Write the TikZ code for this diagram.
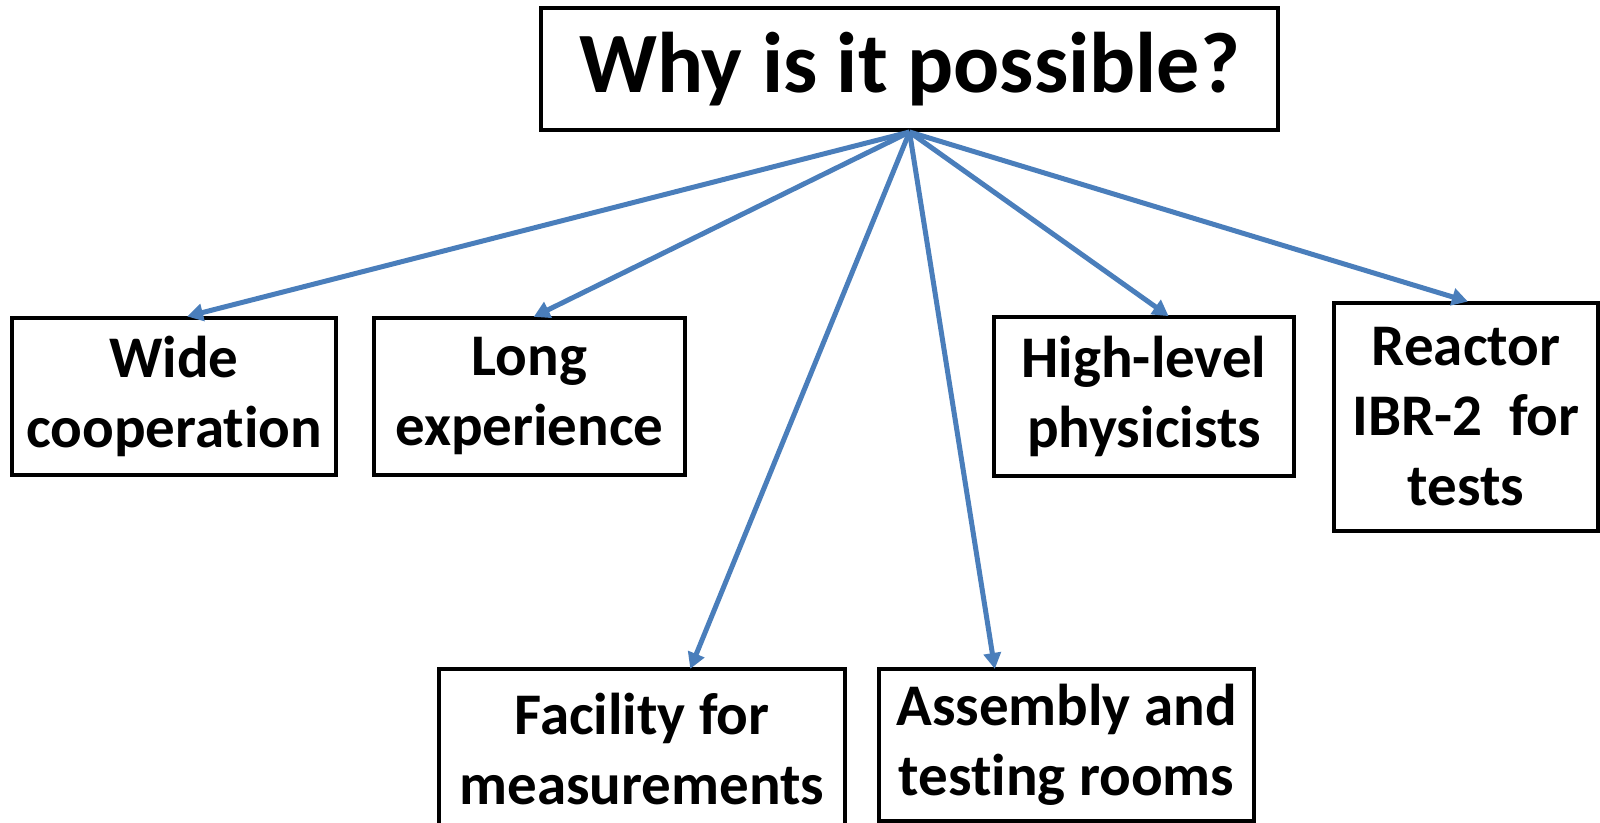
\documentclass[tikz,border=0pt]{standalone}
\usepackage{fontspec}
\setmainfont{Carlito}[Ligatures=NoCommon]
\usetikzlibrary{arrows.meta}
\definecolor{linkblue}{RGB}{74,126,187}
\begin{document}
\begin{tikzpicture}[x=0.5pt,y=-0.5pt,
  box/.style={draw=black,line width=2pt,align=center,inner sep=0pt,
    font=\fontsize{29.5}{35}\selectfont\bfseries},
  link/.style={draw=linkblue,line width=2.5pt,
    -{Triangle[length=8pt,width=8.5pt]},shorten >=-1pt}]
\useasboundingbox (0,0) rectangle (1600,823);
\node[box,minimum width=368.5pt,minimum height=61pt,
  font=\fontsize{43}{50}\selectfont\bfseries] (top) at (909.5,69) {\raisebox{-2pt}{Why is it possible?}};
\node[box,minimum width=162pt,minimum height=78.5pt] (wide) at (174,396.5) {Wide\\cooperation};
\node[box,minimum width=155.5pt,minimum height=78.5pt] (long) at (529.5,396.5) {Long\\experience};
\node[box,minimum width=150pt,minimum height=79.5pt] (high) at (1144,396.5) {High-level\\physicists};
\node[box,minimum width=132pt,minimum height=114pt] (reac) at (1466,417) {Reactor\\IBR-2\ \ for\\tests};
\node[box,minimum width=203pt,minimum height=80pt] (fac) at (642,749) {Facility for\\measurements};
\node[box,minimum width=187.5pt,minimum height=76pt] (asm) at (1066.5,745) {Assembly and\\testing rooms};
\draw[link] (top.south) -- ([xshift=7.5pt]wide.north);
\draw[link] (top.south) -- ([xshift=3pt]long.north);
\draw[link] (top.south) -- ([xshift=24.5pt]fac.north);
\draw[link] (top.south) -- ([xshift=-36pt]asm.north);
\draw[link] (top.south) -- ([xshift=11.5pt]high.north);
\draw[link] (top.south) -- (reac.north);
\end{tikzpicture}
\end{document}
